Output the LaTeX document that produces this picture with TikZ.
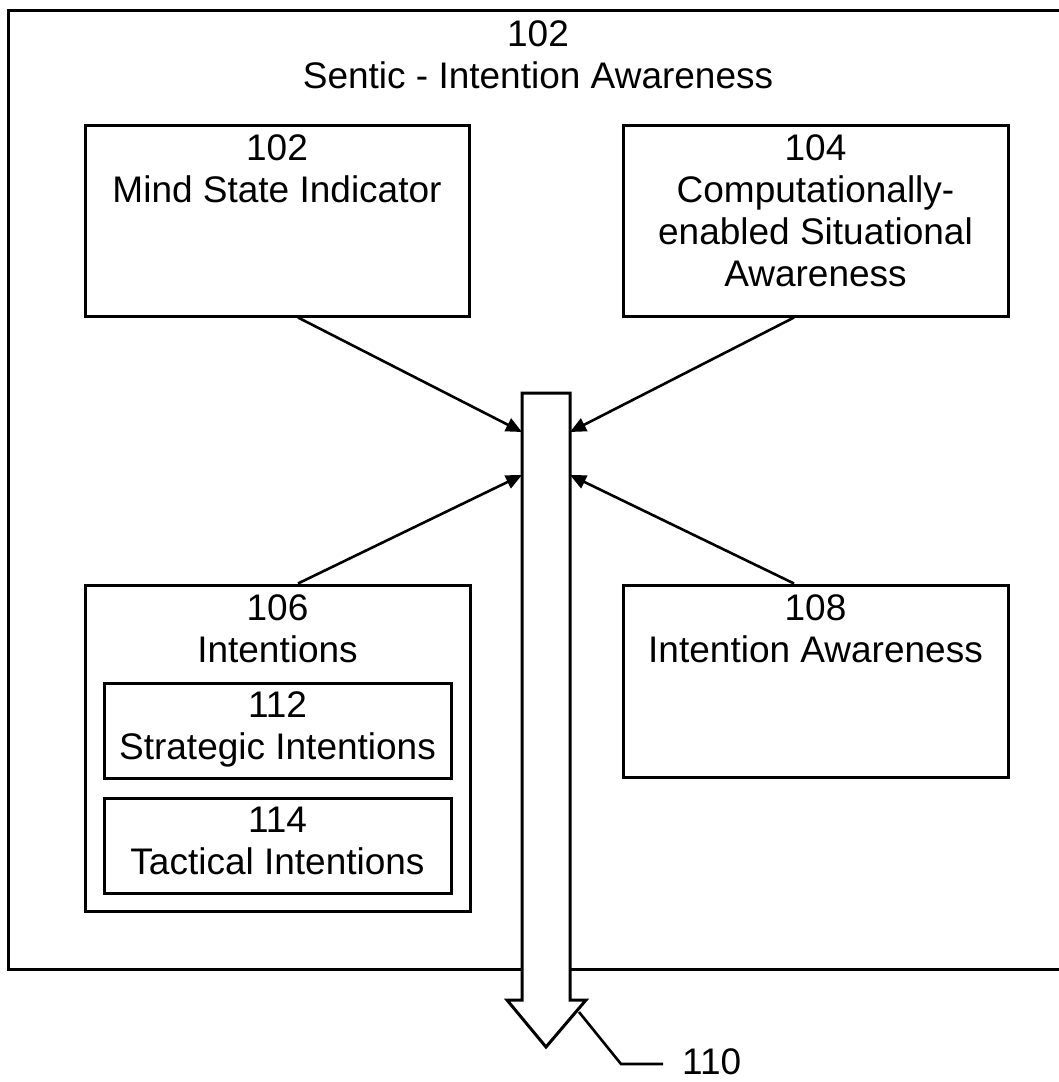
\documentclass[tikz,border=0pt]{standalone}
\usepackage{fontspec}
\setmainfont{Liberation Sans}
\usetikzlibrary{arrows.meta}
\tikzset{
  box/.style={draw, line width=3pt, rectangle, inner sep=0pt, fill=white},
  lbl/.style={font=\fontsize{37}{42}\selectfont, align=center, inner sep=0pt},
  conn/.style={line width=2.6pt, -{Triangle[length=16pt,width=14pt]}},
  bigarrow/.style={draw, line width=3pt, fill=white, line join=miter},
  leader/.style={line width=2.6pt}
}
\begin{document}
\begin{tikzpicture}[x=1pt,y=-1pt]
\useasboundingbox (0,0) rectangle (1059,1082);
\clip (0,0) rectangle (1059,1082);

% enclosing frame of the whole system
\node[box, minimum width=1076pt, minimum height=959pt] (outer) at (546,489.5) {};
\node[lbl, anchor=north] (outert) at (538,20.5) {102\\Sentic - Intention Awareness};

% upper row
\node[box, minimum width=384pt, minimum height=191pt] (mind) at (277,220.5) {};
\node[lbl, anchor=north] (mindt) at (277,134.5) {102\\Mind State Indicator};

\node[box, minimum width=385pt, minimum height=191pt] (csa) at (815.5,220.5) {};
\node[lbl, anchor=north] (csat) at (815.5,134.5) {104\\Computationally-\\enabled Situational\\Awareness};

% lower row
\node[box, minimum width=385pt, minimum height=326pt] (intent) at (277.5,748) {};
\node[lbl, anchor=north] (intentt) at (277.5,594.5) {106\\Intentions};
\node[box, minimum width=347pt, minimum height=95pt] (strat) at (277.5,730.5) {};
\node[lbl, anchor=north] (stratt) at (277.5,691.5) {112\\Strategic Intentions};
\node[box, minimum width=347pt, minimum height=95pt] (tact) at (277.5,845.5) {};
\node[lbl, anchor=north] (tactt) at (277.5,806.5) {114\\Tactical Intentions};

\node[box, minimum width=385pt, minimum height=192pt] (ia) at (815.5,681) {};
\node[lbl, anchor=north] (iat) at (815.5,594.5) {108\\Intention Awareness};

% output arrow 110
\coordinate (sTL) at (522,393);
\coordinate (sTR) at (570,393);
\coordinate (sBL) at (522,1000);
\coordinate (sBR) at (570,1000);
\coordinate (hL) at (507,1000);
\coordinate (hR) at (586,1000);
\coordinate (tip) at (546,1047);
\path[bigarrow] (sTL) -- (sTR) -- (sBR) -- (hR) -- (tip) -- (hL) -- (sBL) -- cycle;

% attachment points on the shaft
\coordinate (inUL) at (522,432);
\coordinate (inUR) at (570,432);
\coordinate (inLL) at (522,475);
\coordinate (inLR) at (570,475);

\draw[conn] ([xshift=21pt]mind.south) -- (inUL);
\draw[conn] ([xshift=-21.5pt]csa.south) -- (inUR);
\draw[conn] ([xshift=20.5pt]intent.north) -- (inLL);
\draw[conn] ([xshift=-21.5pt]ia.north) -- (inLR);

% reference numeral of the arrow
\coordinate (lead) at (579,1012);
\node[lbl, anchor=west] (n110) at (682,1062) {110};
\draw[leader] (lead) -- (621,1064) -- ([xshift=-19pt,yshift=-2pt]n110.west);
\end{tikzpicture}
\end{document}
